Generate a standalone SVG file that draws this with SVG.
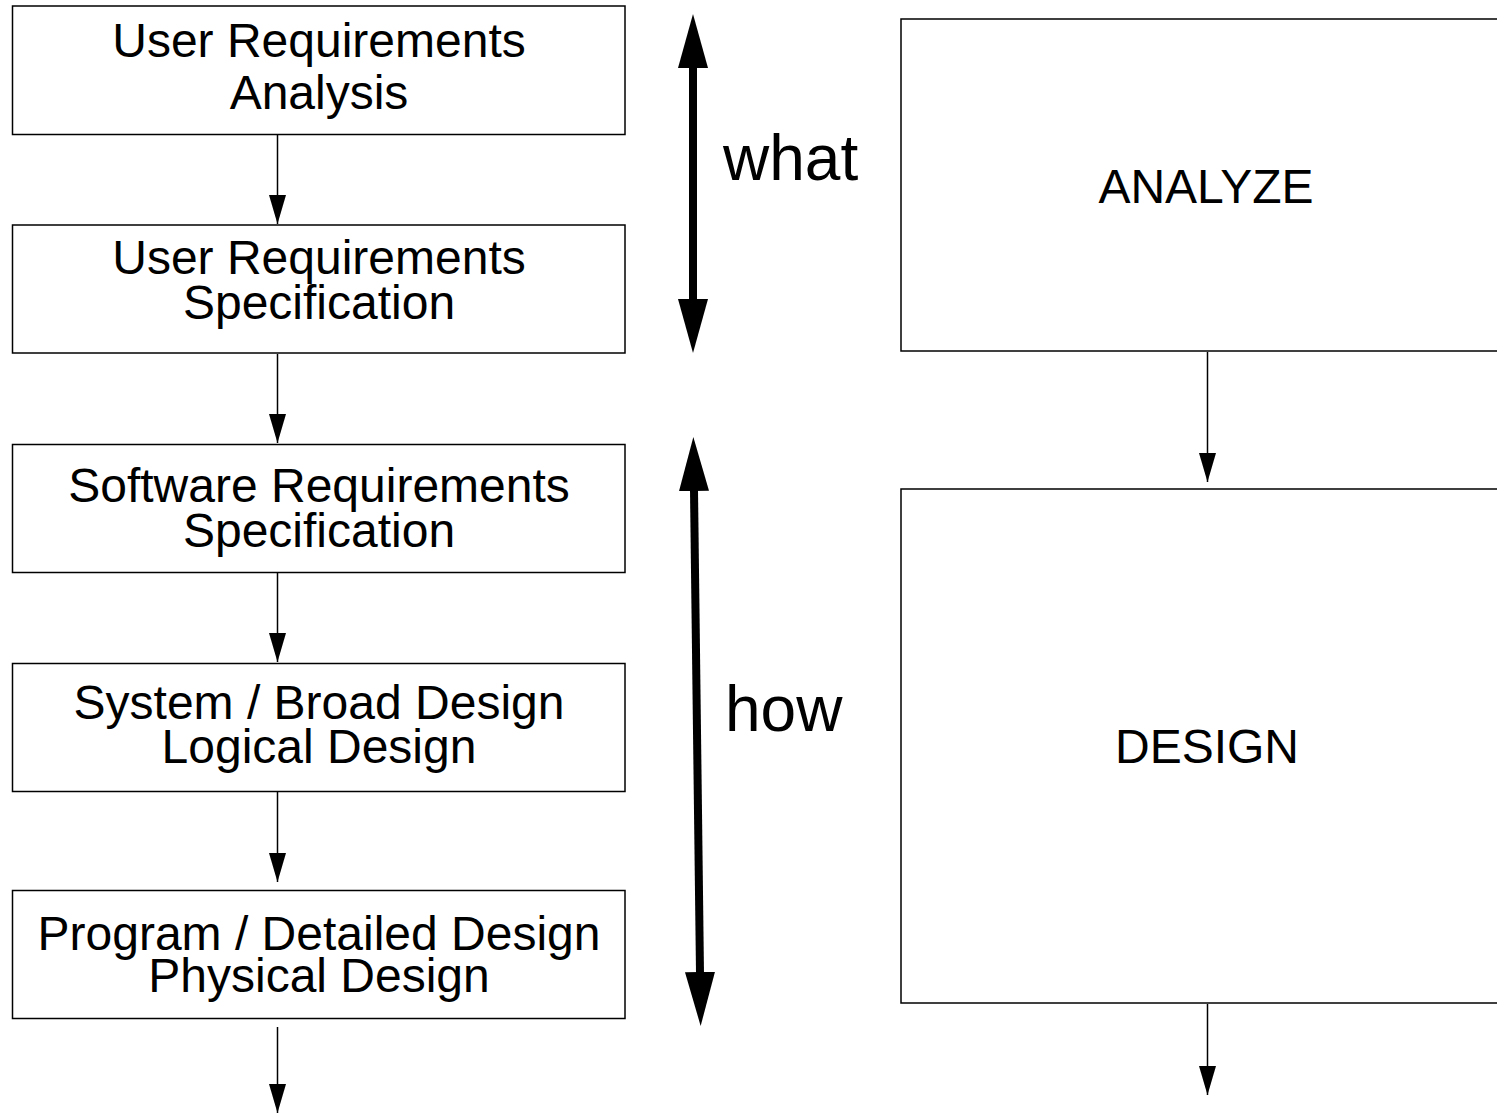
<svg xmlns="http://www.w3.org/2000/svg" width="1497" height="1116" viewBox="0 0 1497 1116">
<style>
  .box { fill: #ffffff; stroke: #000000; stroke-width: 1.5; }
  .lbl { font-family: "Liberation Sans", Arial, sans-serif; font-size: 48px; fill: #000000; text-anchor: middle; }
  .big { font-family: "Liberation Sans", Arial, sans-serif; font-size: 64px; fill: #000000; }
  .thin { stroke: #000000; stroke-width: 1.5; fill: none; marker-end: url(#head); }
  .thick { stroke: #000000; stroke-width: 8; fill: none; marker-start: url(#bighead); marker-end: url(#bighead); }
</style>
<defs>
  <marker id="head" markerUnits="userSpaceOnUse" markerWidth="29" markerHeight="17" refX="29" refY="8.5" orient="auto" viewBox="0 0 29 17">
    <path d="M0,0 L29,8.5 L0,17 z" fill="#000000"/>
  </marker>
  <marker id="bighead" markerUnits="userSpaceOnUse" markerWidth="54" markerHeight="30" refX="1" refY="15" orient="auto-start-reverse" viewBox="0 0 54 30">
    <path d="M0,0 L54,15 L0,30 z" fill="#000000"/>
  </marker>
</defs>
<rect width="1497" height="1116" fill="#ffffff"/>

<g id="n-ura">
  <rect class="box" x="12.5" y="6" width="612.5" height="128.5"/>
  <text class="lbl" x="319" y="57">User Requirements</text>
  <text class="lbl" x="319" y="109">Analysis</text>
</g>
<g id="n-urs">
  <rect class="box" x="12.5" y="225" width="612.5" height="128"/>
  <text class="lbl" x="319" y="274">User Requirements</text>
  <text class="lbl" x="319" y="319">Specification</text>
</g>
<g id="n-srs">
  <rect class="box" x="12.5" y="444.5" width="612.5" height="128"/>
  <text class="lbl" x="319" y="502">Software Requirements</text>
  <text class="lbl" x="319" y="547">Specification</text>
</g>
<g id="n-sys">
  <rect class="box" x="12.5" y="663.5" width="612.5" height="128"/>
  <text class="lbl" x="319" y="719">System / Broad Design</text>
  <text class="lbl" x="319" y="763">Logical Design</text>
</g>
<g id="n-prog">
  <rect class="box" x="12.5" y="890.5" width="612.5" height="128"/>
  <text class="lbl" x="319" y="950">Program / Detailed Design</text>
  <text class="lbl" x="319" y="992">Physical Design</text>
</g>
<g id="n-analyze">
  <rect class="box" x="901" y="19" width="620" height="332"/>
  <text class="lbl" x="1206" y="203">ANALYZE</text>
</g>
<g id="n-design">
  <rect class="box" x="901" y="489" width="620" height="514"/>
  <text class="lbl" x="1207" y="763">DESIGN</text>
</g>
<g id="l-what">
  <text class="big" x="723" y="180">what</text>
</g>
<g id="l-how">
  <text class="big" x="725" y="731">how</text>
</g>

<g id="connectors">
  <line class="thin" x1="277.5" y1="135" x2="277.5" y2="224"/>
  <line class="thin" x1="277.5" y1="354" x2="277.5" y2="443"/>
  <line class="thin" x1="277.5" y1="573" x2="277.5" y2="662"/>
  <line class="thin" x1="277.5" y1="792" x2="277.5" y2="882"/>
  <line class="thin" x1="277.5" y1="1027" x2="277.5" y2="1113"/>
  <line class="thin" x1="1207.5" y1="352" x2="1207.5" y2="482"/>
  <line class="thin" x1="1207.5" y1="1004" x2="1207.5" y2="1095"/>
  <line class="thick" x1="693" y1="67" x2="693" y2="300"/>
  <line class="thick" x1="694" y1="490" x2="700" y2="973"/>
</g>
</svg>
